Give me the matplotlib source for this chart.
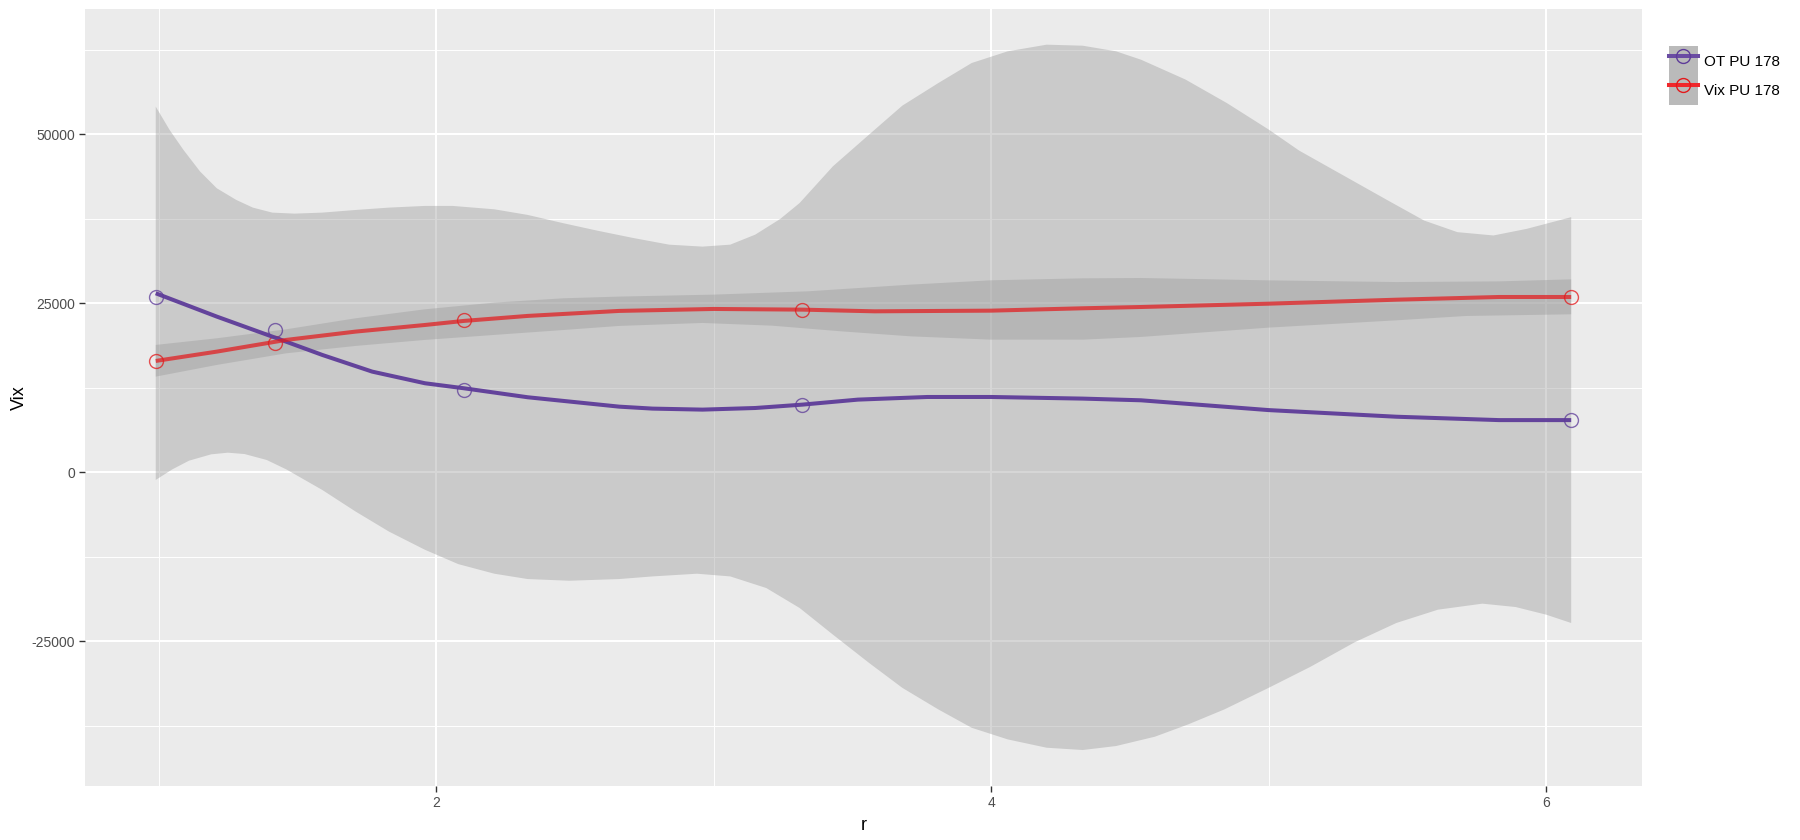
import matplotlib.pyplot as plt
from matplotlib.lines import Line2D
from matplotlib.patches import Patch
from matplotlib.legend_handler import HandlerTuple
from matplotlib.ticker import MultipleLocator

plt.rcParams['font.family'] = ['Liberation Sans', 'DejaVu Sans']
plt.rcParams['axes.unicode_minus'] = False

# measured points
r = [0.99, 1.42, 2.10, 3.32, 6.09]
ot_pu = [26000, 21050, 12180, 10010, 7720]
vix_pu = [16470, 19180, 22530, 24060, 25930]

# loess fits and 95% bands
ot_fit_x = [0.99, 1.21, 1.42, 1.59, 1.77, 1.96, 2.10, 2.33, 2.66, 2.78, 2.96,
            3.15, 3.32, 3.52, 3.77, 4.00, 4.33, 4.54, 5.00, 5.46, 5.83, 6.09]
ot_fit_y = [26480, 23030, 19920, 17360, 14890, 13170, 12430, 11100, 9710, 9420, 9270,
            9510, 10010, 10750, 11140, 11140, 10900, 10650, 9200, 8220, 7720, 7720]

ot_hi_x = [0.99, 1.04, 1.09, 1.15, 1.21, 1.28, 1.34, 1.41, 1.49, 1.59, 1.71, 1.83,
           1.96, 2.06, 2.21, 2.33, 2.46, 2.58, 2.71, 2.84, 2.96, 3.06, 3.15, 3.24,
           3.31, 3.43, 3.56, 3.68, 3.81, 3.93, 4.06, 4.20, 4.33, 4.45, 4.54, 4.70,
           4.85, 5.00, 5.11, 5.27, 5.43, 5.56, 5.68, 5.81, 5.93, 6.09]
ot_hi_y = [54090, 50640, 47680, 44480, 42010, 40290, 39150, 38410, 38260, 38410, 38800, 39150,
           39400, 39400, 38900, 38070, 36830, 35750, 34660, 33670, 33380, 33670, 35150, 37470,
           39830, 45260, 49940, 54230, 57580, 60540, 62270, 63250, 63100, 62270, 61030, 58100,
           54600, 50700, 47580, 43890, 40200, 37240, 35520, 35030, 36010, 37740]

ot_lo_x = [0.99, 1.05, 1.11, 1.19, 1.25, 1.31, 1.39, 1.46, 1.59, 1.71, 1.83, 1.96,
           2.08, 2.21, 2.33, 2.48, 2.66, 2.78, 2.94, 3.06, 3.19, 3.31, 3.43, 3.56,
           3.68, 3.81, 3.93, 4.06, 4.20, 4.33, 4.45, 4.59, 4.71, 4.84, 5.00, 5.15,
           5.31, 5.46, 5.61, 5.77, 5.89, 6.00, 6.09]
ot_lo_y = [-1130, 440, 1720, 2660, 2900, 2700, 1820, 440, -2610, -5800, -8760, -11460,
           -13580, -15000, -15790, -16040, -15790, -15400, -15000, -15400, -17120, -20070, -24010, -28190,
           -31880, -35080, -37790, -39510, -40740, -41080, -40490, -39110, -37290, -35080, -31880, -28780,
           -25140, -22290, -20320, -19430, -19930, -21060, -22290]

vix_fit_x = [0.99, 1.21, 1.46, 1.71, 1.96, 2.10, 2.33, 2.66, 3.00, 3.32, 3.58,
             4.00, 4.33, 4.54, 5.00, 5.46, 5.83, 6.09]
vix_fit_y = [16470, 17850, 19580, 20810, 21790, 22390, 23130, 23870, 24160, 24060, 23810,
             23910, 24260, 24450, 24940, 25530, 25930, 25930]

vix_hi_x = [0.99, 1.21, 1.46, 1.71, 1.96, 2.21, 2.46, 2.66, 3.00, 3.34, 3.71,
            4.00, 4.33, 4.54, 5.00, 5.46, 5.83, 6.09]
vix_hi_y = [18840, 19820, 21150, 22780, 24110, 25100, 25740, 25990, 26280, 26770, 27760,
            28400, 28690, 28740, 28390, 28140, 28240, 28540]

vix_lo_x = [0.99, 1.21, 1.46, 1.71, 1.96, 2.21, 2.46, 2.66, 2.96, 3.21, 3.46,
            3.71, 4.00, 4.33, 4.54, 5.00, 5.46, 5.71, 6.09]
vix_lo_y = [14150, 15880, 17600, 18690, 19580, 20320, 21050, 21650, 22090, 21690, 20850,
            20110, 19620, 19620, 20020, 21400, 22480, 23120, 23370]

series = [
    ("OT PU 178", ot_pu, ot_fit_x, ot_fit_y, ot_hi_x, ot_hi_y, ot_lo_x, ot_lo_y, "#5E3C99", 0.95, "#6A4CA3"),
    ("Vix PU 178", vix_pu, vix_fit_x, vix_fit_y, vix_hi_x, vix_hi_y, vix_lo_x, vix_lo_y, "#E31A1C", 0.72, "#F0282C"),
]

fig = plt.figure(figsize=(18, 8.4), dpi=100)
ax = fig.add_axes([0.0472, 0.0643, 0.8650, 0.9250])
ax.set_facecolor("#EBEBEB")
for s in ax.spines.values():
    s.set_visible(False)

ax.xaxis.set_major_locator(MultipleLocator(2))
ax.xaxis.set_minor_locator(MultipleLocator(1))
ax.yaxis.set_major_locator(MultipleLocator(25000))
ax.yaxis.set_minor_locator(MultipleLocator(12500))
ax.grid(which="major", color="white", lw=1.45)
ax.grid(which="minor", color="white", lw=0.7)
ax.set_axisbelow(True)
ax.tick_params(which="major", length=4, width=1, color="#333333", labelsize=10,
               labelcolor="#4D4D4D", pad=3)
ax.tick_params(which="minor", length=0)

# bands first, then lines, then points
for name, pts, fx, fy, hx, hy, lx, ly, col, a, lcol in series:
    ax.fill(hx + lx[::-1], hy + ly[::-1], color="#999999", alpha=0.4, lw=0, zorder=1)
for name, pts, fx, fy, hx, hy, lx, ly, col, a, lcol in series:
    ax.plot(fx, fy, color=col, alpha=a, lw=2.9, solid_capstyle="butt",
            solid_joinstyle="round", zorder=3)
    ax.plot(r, pts, ls="none", marker="o", ms=10, mfc="none", mec=col, mew=1.0,
            alpha=0.75, zorder=2)

ax.set_xlim(0.735, 6.345)
ax.set_ylim(-46400, 68530)
ax.set_xlabel("r", fontsize=13, labelpad=5)
ax.set_ylabel("Vix", fontsize=13, labelpad=3)

handles = []
labels = []
for name, pts, fx, fy, hx, hy, lx, ly, col, a, lcol in series:
    key_bg = Patch(facecolor="#BABABA", edgecolor="none")
    key_ln = Line2D([], [], color=lcol, lw=2.9, marker="o", ms=10, mfc="none",
                    mec=col, mew=1.0)
    handles.append((key_bg, key_ln))
    labels.append(name)

fig.legend(handles, labels, handler_map={tuple: HandlerTuple(ndivide=1, pad=0)},
           loc="upper left", bbox_to_anchor=(0.927, 0.945), frameon=False,
           fontsize=11, handlelength=1.9, handleheight=2.6, labelspacing=0,
           handletextpad=0.4, borderpad=0, borderaxespad=0, numpoints=1)

fig.savefig("out.png", dpi=100, facecolor="white")
